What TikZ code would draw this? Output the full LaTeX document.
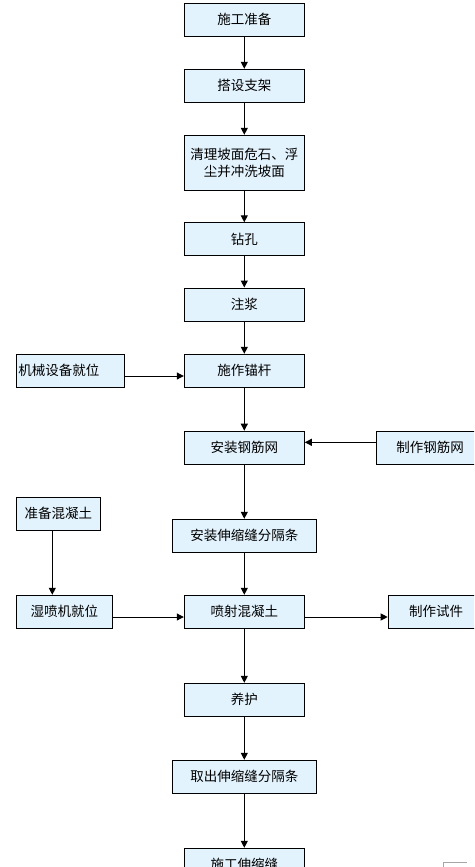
\documentclass[tikz,border=0pt]{standalone}
\usepackage{fontspec}
\newfontfamily\cjk{Noto Sans CJK SC}
\usetikzlibrary{arrows.meta}
\definecolor{boxfill}{HTML}{E3F3FD}
\tikzset{
  box/.style={draw=black, line width=1pt, fill=boxfill, minimum height=33pt, inner sep=2pt,
    font=\cjk\fontsize{13.5}{17}\selectfont, align=center},
  mainbox/.style={box, minimum width=120pt},
  widebox/.style={box, minimum width=144pt},
  arr/.style={line width=1pt, -{Triangle[length=7pt,width=7pt]}}
}
\begin{document}
\begin{tikzpicture}[x=1pt,y=-1pt]
\useasboundingbox (0,0) rectangle (474,867);
\clip (0,0) rectangle (474,867);
\node[mainbox] (n1) at (244.3,19.8) {施工准备};
\node[mainbox] (n2) at (244.3,85.8) {搭设支架};
\node[mainbox, minimum height=55pt] (n3) at (244.3,162.8) {清理坡面危石、浮\\尘并冲洗坡面};
\node[mainbox] (n4) at (244.3,239.3) {钻孔};
\node[mainbox] (n5) at (244.3,304.5) {注浆};
\node[mainbox] (n6) at (244.3,370.8) {施作锚杆};
\node[mainbox] (n7) at (244.3,447.7) {安装钢筋网};
\node[widebox] (n8) at (244.3,535.8) {安装伸缩缝分隔条};
\node[mainbox] (n9) at (244.3,611.8) {喷射混凝土};
\node[mainbox] (n10) at (244.3,699.8) {养护};
\node[widebox] (n11) at (244.3,776.8) {取出伸缩缝分隔条};
\node[mainbox] (n12) at (244.3,864.8) {施工伸缩缝};

\node[box, text width=104pt, align=left] (s1) at (70.3,370.8) {机械设备就位};
\node[box, minimum width=108pt] (s2) at (430.2,447.7) {制作钢筋网};
\node[box, minimum width=84pt] (s3) at (58.3,513.8) {准备混凝土};
\node[box, minimum width=96pt] (s4) at (64.3,611.8) {湿喷机就位};
\node[box, minimum width=96pt] (s5) at (436.2,611.8) {制作试件};

\draw[arr] (n1) -- (n2);
\draw[arr] (n2) -- (n3);
\draw[arr] (n3) -- (n4);
\draw[arr] (n4) -- (n5);
\draw[arr] (n5) -- (n6);
\draw[arr] (n6) -- (n7);
\draw[arr] (n7) -- (n8);
\draw[arr] (n8) -- (n9);
\draw[arr] (n9) -- (n10);
\draw[arr] (n10) -- (n11);
\draw[arr] (n11) -- (n12);

\draw[arr] ([yshift=-5.2pt]s1.east) -- ([yshift=-5.2pt]s1.east -| n6.west);
\draw[arr] ([yshift=5.4pt]s2.west) -- ([yshift=5.4pt]s2.west -| n7.east);
\draw[arr] ([xshift=-6pt]s3.south) -- ([xshift=-6pt]s3.south |- s4.north);
\draw[arr] ([yshift=-5.2pt]s4.east) -- ([yshift=-5.2pt]s4.east -| n9.west);
\draw[arr] ([yshift=-5.2pt]n9.east) -- ([yshift=-5.2pt]n9.east -| s5.west);

\draw[gray!70, line width=1pt] (443.5,867) -- (443.5,862.2) -- (467,862.2);
\end{tikzpicture}
\end{document}
